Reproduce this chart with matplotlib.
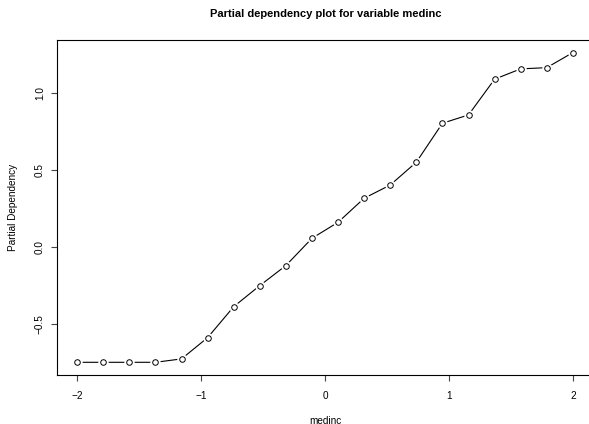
import numpy as np
import matplotlib
matplotlib.use("Agg")
import matplotlib.pyplot as plt

plt.rcParams['font.family'] = ['Liberation Sans', 'DejaVu Sans']

# grid of medinc values and the partial dependence
medinc = np.linspace(-2, 2, 20)
pdep = [-0.751, -0.751, -0.751, -0.751, -0.729, -0.591, -0.390, -0.253,
        -0.123, 0.054, 0.158, 0.314, 0.400, 0.548, 0.801, 0.855,
        1.087, 1.154, 1.162, 1.260]

xticks = [-2, -1, 0, 1, 2]
xticklabels = ['\u22122', '\u22121', '0', '1', '2']
yticks = [-0.5, 0.0, 0.5, 1.0]
yticklabels = ['\u22120.5', '0.0', '0.5', '1.0']


def main():
    fig = plt.figure(figsize=(5.89, 4.24), dpi=100)
    ax = fig.add_axes([0.0973, 0.1163, 0.909, 0.789])

    # R style type="b": line with gaps around open circles
    ax.plot(medinc, pdep, color='black', lw=0.8, zorder=2)
    ax.plot(medinc, pdep, ls='none', marker='o', ms=7.5, mfc='white',
            mec='white', mew=0, zorder=3)
    ax.plot(medinc, pdep, ls='none', marker='o', ms=4.0, mfc='white',
            mec='black', mew=0.7, zorder=4)

    # R pads each axis range by 4%
    yr = max(pdep) - min(pdep)
    ax.set_xlim(-2.16, 2.16)
    ax.set_ylim(min(pdep) - 0.04 * yr, max(pdep) + 0.04 * yr)

    ax.set_xticks(xticks)
    ax.set_xticklabels(xticklabels)
    ax.set_yticks(yticks)
    ax.set_yticklabels(yticklabels, rotation=90, va='center')
    ax.tick_params(direction='out', length=4, width=0.8, labelsize=7.2,
                   color='#444444')
    ax.tick_params(axis='x', pad=8)
    ax.tick_params(axis='y', pad=5)
    for s in ax.spines.values():
        s.set_linewidth(0.8)

    ax.set_xlabel('medinc', fontsize=7.2, va='center')
    ax.xaxis.set_label_coords(0.5, -0.137)
    ax.set_ylabel('Partial Dependency', fontsize=7.2, va='center')
    ax.yaxis.set_label_coords(-0.083, 0.5)
    fig.text(0.553, 0.967, 'Partial dependency plot for variable medinc',
             ha='center', va='center', fontsize=8, fontweight='bold')

    fig.savefig('out.png', dpi=100)


if __name__ == "__main__":
    main()
